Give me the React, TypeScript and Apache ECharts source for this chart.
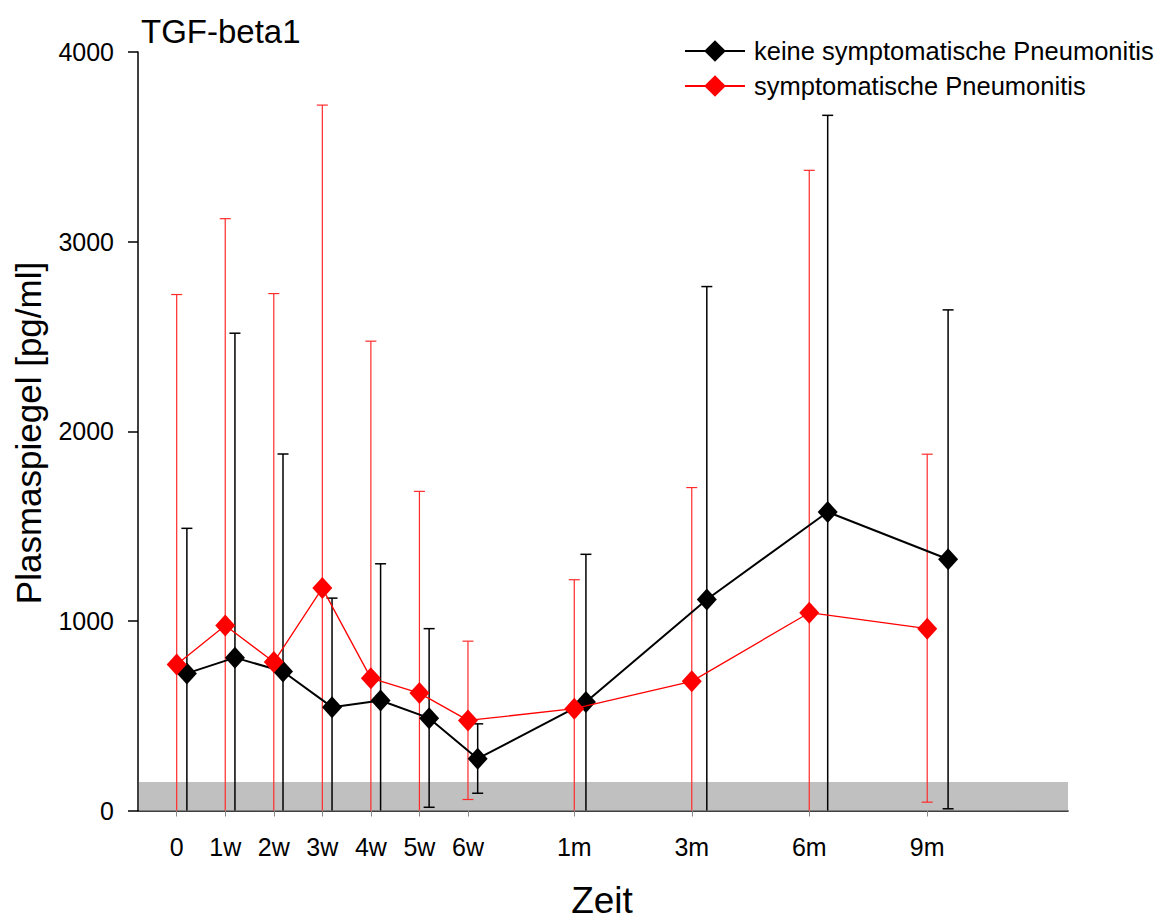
import React, { useEffect, useRef } from "react";
import * as echarts from "echarts";

// Tick labels and their positions (in weeks-like axis units)
const tickLabels = ["0", "1w", "2w", "3w", "4w", "5w", "6w", "1m", "3m", "6m", "9m"];
const xRed = [0, 1, 2, 3, 4, 5, 6, 8.19, 10.61, 13.03, 15.46];
const xBlack = [0.21, 1.2, 2.19, 3.2, 4.2, 5.2, 6.2, 8.43, 10.92, 13.41, 15.89];

// symptomatische Pneumonitis (red)
const redMean = [770, 976, 783, 1173, 698, 619, 475, 537, 681, 1043, 959];
const redUpper = [2721, 3121, 2726, 3720, 2475, 1683, 893, 1217, 1703, 3376, 1879];
const redLower = [0, 0, 0, 0, 0, 0, 58, 0, 0, 0, 44];

// keine symptomatische Pneumonitis (black)
const blackMean = [723, 806, 733, 545, 580, 487, 273, 572, 1113, 1574, 1325];
const blackUpper = [1488, 2517, 1880, 1120, 1301, 959, 457, 1351, 2763, 3666, 2640];
const blackLower = [0, 0, 0, 0, 0, 17, 91, 0, 0, 0, 9];

const bandRange = [0, 150];
const xMin = -0.797;
const xMax = 18.36;

const FONT = "'Liberation Sans', Arial, sans-serif";

function errorRender(color: string, width: number) {
  return (params: any, api: any) => {
    const x = api.value(0);
    const lo = api.value(1);
    const hi = api.value(2);
    const pLo = api.coord([x, lo]);
    const pHi = api.coord([x, hi]);
    const half = 5.5;
    const style = { stroke: color, lineWidth: width };
    const children: any[] = [
      { type: "line", shape: { x1: pLo[0], y1: pLo[1], x2: pHi[0], y2: pHi[1] }, style },
      { type: "line", shape: { x1: pHi[0] - half, y1: pHi[1], x2: pHi[0] + half, y2: pHi[1] }, style },
    ];
    if (lo > 0) {
      children.push({
        type: "line",
        shape: { x1: pLo[0] - half, y1: pLo[1], x2: pLo[0] + half, y2: pLo[1] },
        style,
      });
    }
    return { type: "group", children };
  };
}

export default function App() {
  const ref = useRef<HTMLDivElement>(null);
  useEffect(() => {
    if (!ref.current) return;
    const chart = echarts.init(ref.current, undefined, { renderer: "svg" });
    const labelFor = (v: number) => {
      let best = 0;
      let d = Infinity;
      xRed.forEach((p, i) => {
        if (Math.abs(p - v) < d) {
          d = Math.abs(p - v);
          best = i;
        }
      });
      return tickLabels[best];
    };
    chart.setOption({
      animation: false,
      backgroundColor: "#ffffff",
      textStyle: { fontFamily: FONT },
      title: {
        text: "TGF-beta1",
        left: 136,
        top: 10,
        textStyle: { fontFamily: FONT, fontSize: 33, fontWeight: "normal", color: "#000" },
      },
      legend: {
        data: ["keine symptomatische Pneumonitis", "symptomatische Pneumonitis"],
        orient: "vertical",
        left: 679,
        top: 33,
        itemWidth: 60,
        itemHeight: 27,
        itemGap: 9,
        textStyle: { fontFamily: FONT, fontSize: 25.5, color: "#000", padding: [0, 0, 0, 4] },
      },
      grid: { left: 138, right: 108, top: 52, bottom: 110.5 },
      xAxis: {
        type: "value",
        min: xMin,
        max: xMax,
        splitLine: { show: false },
        axisLine: { show: true, onZero: false, lineStyle: { color: "#000", width: 1.5 } },
        axisTick: {
          show: true,
          customValues: xRed,
          length: 6,
          lineStyle: { color: "#888", width: 1 },
        },
        axisLabel: {
          customValues: xRed,
          formatter: (v: number) => labelFor(v),
          fontFamily: FONT,
          fontSize: 25,
          color: "#000",
          margin: 24,
        },
      },
      yAxis: {
        type: "value",
        min: 0,
        max: 4000,
        interval: 1000,
        splitLine: { show: false },
        axisLine: { show: true, onZero: false, lineStyle: { color: "#000", width: 1.5 } },
        axisTick: { show: true, length: 10, lineStyle: { color: "#000", width: 1.5 } },
        axisLabel: {
          fontFamily: FONT,
          fontSize: 25,
          color: "#000",
          margin: 24,
          formatter: (v: number) => String(v),
        },
      },
      graphic: [
        {
          type: "text",
          x: 28,
          y: 433,
          rotation: Math.PI / 2,
          style: {
            text: "Plasmaspiegel [pg/ml]",
            fontFamily: FONT,
            fontSize: 35,
            fill: "#000",
            align: "center",
            verticalAlign: "middle",
          },
        },
        {
          type: "text",
          x: 602,
          y: 900,
          style: {
            text: "Zeit",
            fontFamily: FONT,
            fontSize: 37,
            fill: "#000",
            align: "center",
            verticalAlign: "middle",
          },
        },
      ],
      series: [
        {
          name: "band",
          type: "custom",
          z: 1,
          silent: true,
          data: [[bandRange[0], bandRange[1]]],
          renderItem: (params: any, api: any) => {
            const p1 = api.coord([xMin, api.value(1)]);
            const p2 = api.coord([xMax, api.value(0)]);
            return {
              type: "rect",
              shape: { x: p1[0] + 1, y: p1[1], width: p2[0] - p1[0] - 1, height: p2[1] - p1[1] },
              style: { fill: "#c0c0c0" },
            };
          },
        },
        {
          name: "errBlack",
          type: "custom",
          z: 3,
          silent: true,
          data: xBlack.map((x, i) => [x, blackLower[i], blackUpper[i]]),
          renderItem: errorRender("#000", 1.5),
        },
        {
          name: "errRed",
          type: "custom",
          z: 3,
          silent: true,
          data: xRed.map((x, i) => [x, redLower[i], redUpper[i]]),
          renderItem: errorRender("#ff2a2a", 1.2),
        },
        {
          name: "keine symptomatische Pneumonitis",
          type: "line",
          z: 4,
          data: xBlack.map((x, i) => [x, blackMean[i]]),
          symbol: "diamond",
          symbolSize: [20, 22],
          itemStyle: { color: "#000" },
          lineStyle: { color: "#000", width: 2 },
        },
        {
          name: "symptomatische Pneumonitis",
          type: "line",
          z: 5,
          data: xRed.map((x, i) => [x, redMean[i]]),
          symbol: "diamond",
          symbolSize: [20, 22],
          itemStyle: { color: "#ff0000" },
          lineStyle: { color: "#ff0000", width: 1.3 },
        },
      ],
    });
    return () => chart.dispose();
  }, []);
  return (
    <div
      ref={ref}
      style={{ position: "fixed", left: 0, top: 0, width: "1176px", height: "921px" }}
    />
  );
}
